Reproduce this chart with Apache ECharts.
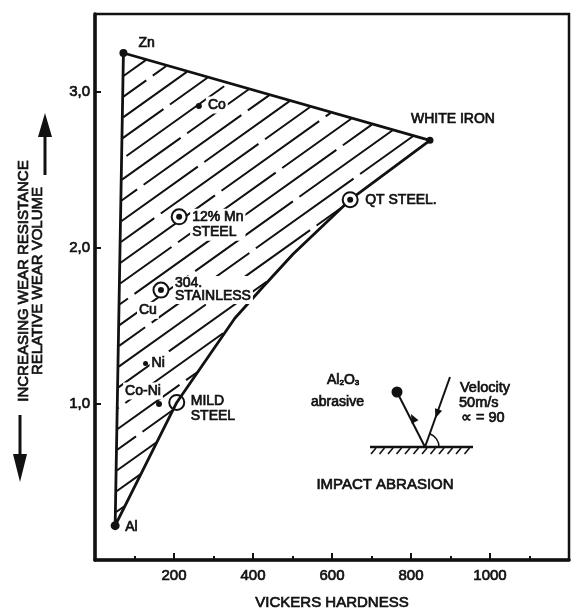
<!DOCTYPE html>
<html>
<head>
<meta charset="utf-8">
<script src="https://cdn.jsdelivr.net/npm/echarts@6/dist/echarts.min.js"></script>
<style>
  html, body { margin: 0; padding: 0; background: #fff; }
  #chart { width: 576px; height: 609px; }
</style>
</head>
<body>
<div id="chart"></div>
<script>
// Materials: Vickers hardness (HV) and relative wear volume
const materials  = ['Zn', 'Co', '12% Mn\nSTEEL', '304.\nSTAINLESS', 'Cu', 'Ni', 'Co-Ni', 'MILD\nSTEEL', 'QT STEEL.', 'WHITE IRON', 'Al'];
const hardnessHV = [72, 263, 213, 167, 134, 128, 162, 207, 646, 848, 51];
const wearVolume = [3.25, 2.91, 2.20, 1.73, 1.60, 1.26, 1.00, 1.01, 2.31, 2.69, 0.22];
const markerKind = ['dot', 'dot', 'target', 'target', 'none', 'dot', 'dot', 'ring', 'target', 'dot', 'dot'];

// Outline of the hatched field (Zn -> white iron -> steels -> Al)
const fieldHV   = [72, 848, 646, 501, 425, 354, 207, 51];
const fieldWear = [3.25, 2.69, 2.31, 1.96, 1.75, 1.55, 1.01, 0.22];

// Labelled ticks
const xTickValues = [200, 400, 600, 800, 1000];
const yTickValues = [1, 2, 3];

const FONT = '"Liberation Sans", Arial, Helvetica, sans-serif';
const INK = '#111';
const HEAVY = 0.7;   // extra stroke around glyphs for the heavier print look

// Marker sizes and label placement (offset of the text anchor from the marker centre)
const markerSize = { dot: { 'Zn': 8, 'Co': 6, 'Ni': 5, 'Co-Ni': 6, 'WHITE IRON': 7, 'Al': 9 }, ring: 15, target: 15 };
const labelPlace = {
  'Zn':               { align: 'left',   dx: 13,  dy: -10, bg: false },
  'Co':               { align: 'left',   dx: 7,   dy: -1,  bg: true },
  '12% Mn\nSTEEL':    { align: 'left',   dx: 11,  dy: 8,   lh: 15, bg: true },
  '304.\nSTAINLESS':  { align: 'left',   dx: 12,  dy: 0,   lh: 13, bg: true },
  'Cu':               { align: 'center', dx: 0,   dy: 0,   bg: true },
  'Ni':               { align: 'left',   dx: 4,   dy: 0,   bg: true },
  'Co-Ni':            { align: 'center', dx: -16, dy: -13, bg: true },
  'MILD\nSTEEL':      { align: 'left',   dx: 12,  dy: 6,   lh: 15, bg: true },
  'QT STEEL.':        { align: 'left',   dx: 13,  dy: 1,   bg: false },
  'WHITE IRON':       { align: 'center', dx: 23,  dy: -21, bg: false },
  'Al':               { align: 'left',   dx: 8,   dy: 1,   bg: false }
};

const textBase = { color: INK, fontFamily: FONT, fontSize: 14, textBorderColor: INK, textBorderWidth: HEAVY };

const pointData = materials.map(function (name, i) {
  const kind = markerKind[i];
  const p = labelPlace[name];
  let size = 0, style = { color: INK, opacity: 1 };
  if (kind === 'dot') size = markerSize.dot[name];
  if (kind === 'ring') { size = markerSize.ring; style = { color: 'rgba(0,0,0,0)', borderColor: INK, borderWidth: 2, opacity: 1 }; }
  if (kind === 'target') { size = markerSize.target; style = { color: '#fff', borderColor: INK, borderWidth: 2, opacity: 1 }; }
  return {
    name: name,
    value: [hardnessHV[i], wearVolume[i]],
    symbol: 'circle',
    symbolSize: size,
    itemStyle: style,
    label: Object.assign({}, textBase, {
      show: true,
      formatter: name,
      position: 'inside',
      align: p.align,
      verticalAlign: 'middle',
      offset: [p.dx, p.dy],
      lineHeight: p.lh || 15,
      backgroundColor: p.bg ? '#fff' : 'transparent',
      padding: [1, 2]
    })
  };
});

const targetCentres = materials
  .map(function (name, i) { return markerKind[i] === 'target' ? [hardnessHV[i], wearVolume[i]] : null; })
  .filter(Boolean);

// Hatching of the field: parallel strokes clipped to the outline
const HATCH_ANGLE = 35.5;   // degrees above horizontal
const HATCH_GAP = 16.7;     // px between strokes
const HATCH_PHASE = -10.5;  // px shift relative to the Al corner

function renderField(params, api) {
  const pts = fieldHV.map(function (x, i) { return api.coord([x, fieldWear[i]]); });
  const th = HATCH_ANGLE * Math.PI / 180;
  const ux = Math.cos(th), uy = -Math.sin(th);
  const nx = Math.sin(th), ny = Math.cos(th);
  const proj = function (p) { return p[0] * nx + p[1] * ny; };
  const cs = pts.map(proj);
  const cmin = Math.min.apply(null, cs), cmax = Math.max.apply(null, cs);
  const c0 = proj(pts[pts.length - 1]) + HATCH_PHASE;
  const children = [];
  for (let k = Math.floor((cmin - c0) / HATCH_GAP); c0 + k * HATCH_GAP <= cmax; k++) {
    const c = c0 + k * HATCH_GAP;
    const ts = [];
    for (let i = 0; i < pts.length; i++) {
      const j = (i + 1) % pts.length;
      const a = pts[i], b = pts[j];
      if ((cs[i] - c) * (cs[j] - c) < 0) {
        const f = (c - cs[i]) / (cs[j] - cs[i]);
        const px = a[0] + f * (b[0] - a[0]), py = a[1] + f * (b[1] - a[1]);
        ts.push(px * ux + py * uy);
      }
    }
    ts.sort(function (a, b) { return a - b; });
    for (let m = 0; m + 1 < ts.length; m += 2) {
      const t1 = ts[m] + 1, t2 = ts[m + 1] - 1;
      if (t2 <= t1) continue;
      children.push({
        type: 'line',
        shape: { x1: c * nx + t1 * ux, y1: c * ny + t1 * uy, x2: c * nx + t2 * ux, y2: c * ny + t2 * uy },
        style: { stroke: INK, lineWidth: 2, lineDash: [120, 8], lineDashOffset: (k * 53) % 128 }
      });
    }
  }
  children.push({
    type: 'polygon',
    shape: { points: pts },
    style: { fill: 'none', stroke: INK, lineWidth: 2.8, lineJoin: 'round' }
  });
  return { type: 'group', children: children };
}

function arrowHead(tip, dir, len, half) {
  const n = Math.hypot(dir[0], dir[1]);
  const ux = dir[0] / n, uy = dir[1] / n;
  const bx = tip[0] - ux * len, by = tip[1] - uy * len;
  return [[tip[0], tip[1]], [bx - uy * half, by + ux * half], [bx + uy * half, by - ux * half]];
}

function txt(x, y, text, extra, rotation) {
  return {
    type: 'text', x: x, y: y, rotation: rotation || 0, silent: true,
    style: Object.assign({
      text: text, fill: INK, font: '14px ' + FONT, stroke: INK, lineWidth: HEAVY,
      align: 'left', verticalAlign: 'middle'
    }, extra || {})
  };
}

// Impact-abrasion sketch and the vertical axis caption
const impactAt = [425, 447];
const groundHatch = [];
for (let gx = 374; gx <= 470; gx += 8.5) {
  groundHatch.push({ type: 'line', silent: true, shape: { x1: gx + 2, y1: 448, x2: gx - 3, y2: 454 }, style: { stroke: INK, lineWidth: 1.6 } });
}

const graphics = [
  // vertical axis caption
  txt(24, 281, 'INCREASING WEAR RESISTANCE', { align: 'center', font: '15px ' + FONT }, Math.PI / 2),
  txt(38, 281, 'RELATIVE WEAR VOLUME', { align: 'center', font: '15px ' + FONT }, Math.PI / 2),
  { type: 'line', silent: true, shape: { x1: 45, y1: 175, x2: 45, y2: 132 }, style: { stroke: INK, lineWidth: 3 } },
  { type: 'polygon', silent: true, shape: { points: arrowHead([45, 113], [0, -1], 24, 7) }, style: { fill: INK } },
  { type: 'line', silent: true, shape: { x1: 20, y1: 415, x2: 20, y2: 460 }, style: { stroke: INK, lineWidth: 3 } },
  { type: 'polygon', silent: true, shape: { points: arrowHead([20, 482], [0, 1], 28, 7) }, style: { fill: INK } },

  // abrasive particle, rebound path and incoming path
  { type: 'circle', silent: true, shape: { cx: 397, cy: 392, r: 5.5 }, style: { fill: INK } },
  { type: 'line', silent: true, shape: { x1: 397, y1: 392, x2: impactAt[0], y2: impactAt[1] }, style: { stroke: INK, lineWidth: 2 } },
  { type: 'polygon', silent: true, shape: { points: arrowHead([411, 414], [-28, -55], 9, 3.8) }, style: { fill: INK } },
  { type: 'line', silent: true, shape: { x1: 450, y1: 377, x2: impactAt[0], y2: impactAt[1] }, style: { stroke: INK, lineWidth: 2 } },
  { type: 'polygon', silent: true, shape: { points: arrowHead([435.5, 418], [-25, 70], 9, 3.8) }, style: { fill: INK } },
  { type: 'arc', silent: true, shape: { cx: impactAt[0], cy: impactAt[1], r: 14, startAngle: -1.23, endAngle: 0, clockwise: true }, style: { stroke: INK, lineWidth: 1.5, fill: 'none' } },
  { type: 'line', silent: true, shape: { x1: 370, y1: 447, x2: 473, y2: 447 }, style: { stroke: INK, lineWidth: 2.5 } }
].concat(groundHatch).concat([
  {
    type: 'text', x: 327, y: 380, silent: true,
    style: {
      text: 'Al{s|2}O{s|3}', fill: INK, font: '14px ' + FONT, stroke: INK, lineWidth: HEAVY,
      align: 'left', verticalAlign: 'middle',
      rich: { s: { fontSize: 8, fontFamily: FONT, verticalAlign: 'bottom', padding: [6, 0, 0, 0] } }
    }
  },
  txt(337.5, 402, 'abrasive', { align: 'center' }),
  txt(460, 387.5, 'Velocity', { font: '14.5px ' + FONT }),
  txt(459, 403, '50m/s', { font: '14.5px ' + FONT }),
  txt(461, 418, '\u221D = 90', { font: '14.5px ' + FONT }),
  txt(385, 485, 'IMPACT ABRASION', { align: 'center', font: '15px ' + FONT })
]);

const chart = echarts.init(document.getElementById('chart'), null, { renderer: 'canvas' });
chart.setOption({
  animation: false,
  backgroundColor: '#fff',
  grid: {
    left: 95, right: 7, top: 14, bottom: 49, show: true,
    borderColor: INK, borderWidth: 2.5, backgroundColor: 'transparent',
    containLabel: false, outerBoundsMode: 'none'
  },
  xAxis: {
    type: 'value', min: 0, max: 1200, interval: 200,
    axisLine: { show: true, onZero: false, lineStyle: { color: INK, width: 3.5 } },
    axisTick: { show: true, inside: true, length: 7, lineStyle: { color: INK, width: 2 } },
    minorTick: { show: true, splitNumber: 2, length: 4, lineStyle: { color: INK, width: 2 } },
    splitLine: { show: false },
    axisLabel: {
      margin: 8, color: INK, fontFamily: FONT, fontSize: 15, textBorderColor: INK, textBorderWidth: HEAVY,
      formatter: function (v) { return xTickValues.indexOf(v) >= 0 ? String(v) : ''; }
    },
    name: 'VICKERS HARDNESS', nameLocation: 'middle', nameGap: 35,
    nameTextStyle: { color: INK, fontFamily: FONT, fontSize: 15, textBorderColor: INK, textBorderWidth: HEAVY }
  },
  yAxis: {
    type: 'value', min: 0, max: 3.5, interval: 1,
    axisLine: { show: true, onZero: false, lineStyle: { color: INK, width: 3.5 } },
    axisTick: { show: true, inside: true, length: 6, lineStyle: { color: INK, width: 2 } },
    splitLine: { show: false },
    axisLabel: {
      margin: 5, color: INK, fontFamily: FONT, fontSize: 15, textBorderColor: INK, textBorderWidth: HEAVY,
      formatter: function (v) { return yTickValues.indexOf(v) >= 0 ? v.toFixed(1).replace('.', ',') : ''; }
    }
  },
  series: [
    { type: 'custom', coordinateSystem: 'cartesian2d', data: [[0, 0]], silent: true, z: 1, renderItem: renderField },
    { type: 'scatter', data: pointData, z: 3, silent: true },
    { type: 'scatter', data: targetCentres, symbol: 'circle', symbolSize: 6, itemStyle: { color: INK, opacity: 1 }, z: 4, silent: true }
  ],
  graphic: graphics
});
</script>
</body>
</html>
